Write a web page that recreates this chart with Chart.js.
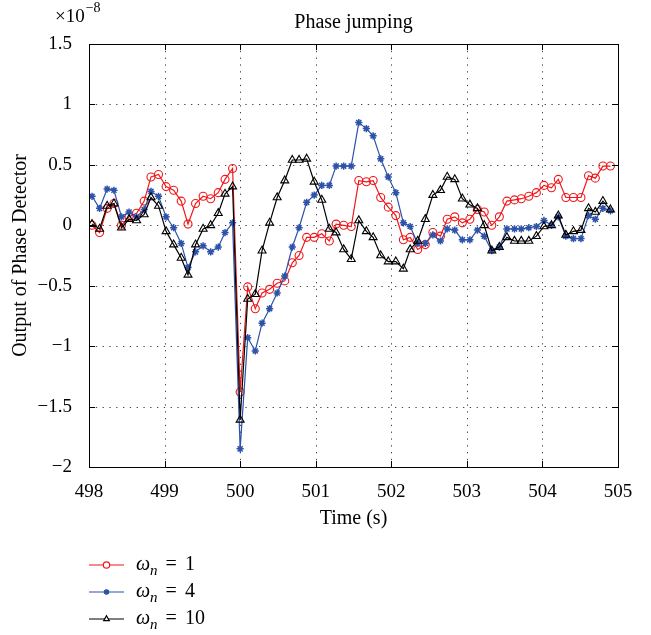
<!DOCTYPE html>
<html lang="en">
<head>
<meta charset="utf-8">
<style>
  html, body { margin: 0; padding: 0; background: #fff; }
  #wrap { width: 651px; height: 635px; }
</style>
</head>
<body>
<div id="wrap"><canvas id="myChart" width="651" height="635"></canvas></div>
<script src="https://cdn.jsdelivr.net/npm/chart.js"></script>
<script>
// sample times (s)
const times = [498.04, 498.14, 498.24, 498.33, 498.43, 498.53, 498.63, 498.73, 498.82, 498.92,
  499.02, 499.12, 499.22, 499.31, 499.41, 499.51, 499.61, 499.71, 499.80, 499.90,
  500.00, 500.10, 500.20, 500.29, 500.39, 500.49, 500.59, 500.69, 500.78, 500.88,
  500.98, 501.08, 501.18, 501.27, 501.37, 501.47, 501.57, 501.67, 501.76, 501.86,
  501.96, 502.06, 502.16, 502.25, 502.35, 502.45, 502.55, 502.65, 502.74, 502.84,
  502.94, 503.04, 503.14, 503.23, 503.33, 503.43, 503.53, 503.63, 503.72, 503.82,
  503.92, 504.02, 504.12, 504.21, 504.31, 504.41, 504.51, 504.61, 504.70, 504.80, 504.90];

// output values in units of 1e-8
const wn1 = [0.00, -0.06, 0.14, 0.18, 0.00, 0.07, 0.10, 0.20, 0.40, 0.42,
  0.32, 0.29, 0.20, 0.01, 0.18, 0.24, 0.22, 0.27, 0.38, 0.47,
  -1.38, -0.51, -0.69, -0.56, -0.53, -0.48, -0.46, -0.31, -0.25, -0.10,
  -0.10, -0.07, -0.13, 0.01, 0.00, -0.01, 0.37, 0.36, 0.37, 0.23,
  0.15, 0.08, -0.12, -0.10, -0.20, -0.16, -0.06, -0.09, 0.05, 0.07,
  0.02, 0.05, 0.13, 0.11, 0.00, 0.07, 0.20, 0.21, 0.22, 0.24,
  0.27, 0.33, 0.31, 0.38, 0.23, 0.23, 0.23, 0.41, 0.39, 0.49, 0.49];

const wn4 = [0.24, 0.14, 0.30, 0.29, 0.07, 0.11, 0.07, 0.13, 0.28, 0.24,
  0.07, -0.02, -0.15, -0.35, -0.22, -0.17, -0.22, -0.18, -0.06, 0.02,
  -1.85, -0.93, -1.04, -0.81, -0.69, -0.56, -0.42, -0.18, -0.02, 0.19,
  0.25, 0.33, 0.33, 0.49, 0.49, 0.49, 0.85, 0.80, 0.74, 0.55,
  0.40, 0.27, 0.02, -0.01, -0.15, -0.15, -0.08, -0.13, -0.03, -0.04,
  -0.12, -0.12, -0.04, -0.09, -0.21, -0.18, -0.03, -0.03, -0.03, -0.02,
  -0.01, 0.04, 0.00, 0.07, -0.09, -0.11, -0.11, 0.08, 0.05, 0.14, 0.12];

const wn10 = [0.01, -0.03, 0.16, 0.18, -0.02, 0.05, 0.04, 0.09, 0.23, 0.16,
  -0.05, -0.16, -0.27, -0.41, -0.16, -0.03, 0.00, 0.10, 0.26, 0.32,
  -1.61, -0.61, -0.57, -0.21, 0.02, 0.23, 0.37, 0.54, 0.54, 0.55,
  0.36, 0.21, -0.03, -0.06, -0.20, -0.28, 0.04, -0.05, -0.10, -0.25,
  -0.30, -0.30, -0.36, -0.20, -0.13, 0.05, 0.25, 0.29, 0.40, 0.38,
  0.22, 0.17, 0.14, 0.00, -0.21, -0.18, -0.10, -0.13, -0.13, -0.13,
  -0.09, -0.01, 0.00, 0.08, -0.08, -0.05, -0.04, 0.14, 0.11, 0.20, 0.13];

const seriesNames = ['1', '4', '10'];
const xTicks = [498, 499, 500, 501, 502, 503, 504, 505];
const yTicks = [1.5, 1, 0.5, 0, -0.5, -1, -1.5, -2];

const serif = "'Liberation Serif', 'DejaVu Serif', serif";
const red = 'rgb(240, 22, 26)';
const blue = 'rgb(44, 82, 170)';
const black = 'rgb(0, 0, 0)';

function toPoints(vals) {
  return vals.map((v, i) => ({ x: times[i], y: v }));
}

// box, dotted grid, inward ticks, titles and legend (MATLAB look)
const matlabLook = {
  id: 'matlabLook',
  beforeDatasetsDraw(chart) {
    const ctx = chart.ctx;
    const a = chart.chartArea;
    const xs = chart.scales.x, ys = chart.scales.y;
    ctx.save();
    ctx.strokeStyle = '#444';
    ctx.lineWidth = 1;
    ctx.setLineDash([1.3, 5.5]);
    xTicks.forEach(t => {
      const px = Math.round(xs.getPixelForValue(t)) + 0.5;
      ctx.beginPath(); ctx.moveTo(px, a.top); ctx.lineTo(px, a.bottom); ctx.stroke();
    });
    yTicks.forEach(t => {
      const py = Math.round(ys.getPixelForValue(t)) + 0.5;
      ctx.beginPath(); ctx.moveTo(a.left, py); ctx.lineTo(a.right, py); ctx.stroke();
    });
    ctx.restore();
  },
  afterDraw(chart) {
    const ctx = chart.ctx;
    const a = chart.chartArea;
    const xs = chart.scales.x, ys = chart.scales.y;
    ctx.save();
    // frame
    ctx.strokeStyle = '#000';
    ctx.lineWidth = 1;
    ctx.strokeRect(Math.round(a.left) + 0.5, Math.round(a.top) + 0.5,
      Math.round(a.right - a.left), Math.round(a.bottom - a.top));
    // inward ticks
    const tl = 6;
    ctx.beginPath();
    xTicks.forEach(t => {
      const px = Math.round(xs.getPixelForValue(t)) + 0.5;
      ctx.moveTo(px, a.bottom); ctx.lineTo(px, a.bottom - tl);
      ctx.moveTo(px, a.top); ctx.lineTo(px, a.top + tl);
    });
    yTicks.forEach(t => {
      const py = Math.round(ys.getPixelForValue(t)) + 0.5;
      ctx.moveTo(a.left, py); ctx.lineTo(a.left + tl, py);
      ctx.moveTo(a.right, py); ctx.lineTo(a.right - tl, py);
    });
    ctx.stroke();

    ctx.fillStyle = '#000';
    // title
    ctx.font = '20px ' + serif;
    ctx.textAlign = 'center';
    ctx.textBaseline = 'alphabetic';
    ctx.fillText('Phase jumping', (a.left + a.right) / 2, 28);
    // exponent
    ctx.textAlign = 'left';
    ctx.font = '19px ' + serif;
    ctx.fillText('\u00d710', 55, 22);
    const w = ctx.measureText('\u00d710').width;
    ctx.font = '14px ' + serif;
    ctx.fillText('\u22128', 55 + w + 1, 12);
    // x title
    ctx.font = '20px ' + serif;
    ctx.textAlign = 'center';
    ctx.fillText('Time (s)', (a.left + a.right) / 2, 524);
    // y title
    ctx.save();
    ctx.translate(26, (a.top + a.bottom) / 2);
    ctx.rotate(-Math.PI / 2);
    ctx.fillText('Output of Phase Detector', 0, 0);
    ctx.restore();

    // legend
    const rows = [565, 592, 619];
    chart.data.datasets.forEach((ds, i) => {
      const y = rows[i];
      ctx.strokeStyle = ds.borderColor;
      ctx.lineWidth = 1.2;
      ctx.setLineDash([]);
      ctx.beginPath(); ctx.moveTo(89, y); ctx.lineTo(124, y); ctx.stroke();
      ctx.fillStyle = ds.pointStyle === 'star' ? ds.borderColor : '#fff';
      if (ds.pointStyle === 'star') {
        Chart.helpers.drawPoint(ctx, { pointStyle: 'circle', radius: 2.2, rotation: 0, borderWidth: 1 }, 106.5, y);
      } else {
        Chart.helpers.drawPoint(ctx, { pointStyle: ds.pointStyle, radius: 3.2, rotation: 0, borderWidth: 1.2 }, 106.5, y);
      }
      ctx.fillStyle = '#000';
      ctx.textAlign = 'left';
      ctx.font = 'italic 20px ' + serif;
      ctx.fillText('\u03c9', 136, y + 5);
      let x = 136 + ctx.measureText('\u03c9').width;
      ctx.font = 'italic 15px ' + serif;
      ctx.fillText('n', x, y + 10);
      x += ctx.measureText('n').width + 8;
      ctx.font = '20px ' + serif;
      ctx.fillText('=', x, y + 5);
      x += ctx.measureText('=').width + 8;
      ctx.fillText(seriesNames[i], x, y + 5);
    });
    ctx.restore();
  }
};

const fmt = v => (v < 0 ? '\u2212' + Math.abs(v) : String(v));

const config = {
  type: 'line',
  data: {
    datasets: [
      { label: 'wn = 1', data: toPoints(wn1), borderColor: red, backgroundColor: 'rgba(0,0,0,0)',
        pointStyle: 'circle', pointRadius: 4, pointBorderWidth: 1.1, borderWidth: 1.2, order: 3 },
      { label: 'wn = 4', data: toPoints(wn4), borderColor: blue, backgroundColor: 'rgba(0,0,0,0)',
        pointStyle: 'star', pointRadius: 3.6, pointBorderWidth: 1.5, borderWidth: 1.2, order: 2 },
      { label: 'wn = 10', data: toPoints(wn10), borderColor: black, backgroundColor: 'rgba(0,0,0,0)',
        pointStyle: 'triangle', pointRadius: 4.6, pointBorderWidth: 1.1, borderWidth: 1.2, order: 1 }
    ]
  },
  options: {
    responsive: false,
    animation: false,
    events: [],
    layout: { padding: { left: 0, right: 33, top: 44, bottom: 0 } },
    elements: { line: { tension: 0 } },
    plugins: { legend: { display: false }, tooltip: { enabled: false }, title: { display: false } },
    scales: {
      x: {
        type: 'linear', min: 498, max: 505,
        afterBuildTicks: s => { s.ticks = xTicks.map(v => ({ value: v })); },
        afterFit: s => { s.height = 635 - 467; },
        grid: { display: false },
        border: { display: false },
        ticks: { color: '#000', font: { family: serif, size: 19 }, padding: 6, maxRotation: 0 }
      },
      y: {
        min: -2, max: 1.5,
        afterBuildTicks: s => { s.ticks = yTicks.map(v => ({ value: v })); },
        afterFit: s => { s.width = 89; },
        grid: { display: false },
        border: { display: false },
        ticks: { color: '#000', font: { family: serif, size: 19 }, padding: 9, callback: v => fmt(v) }
      }
    }
  },
  plugins: [matlabLook]
};

const myChart = new Chart(document.getElementById('myChart'), config);
</script>
</body>
</html>
